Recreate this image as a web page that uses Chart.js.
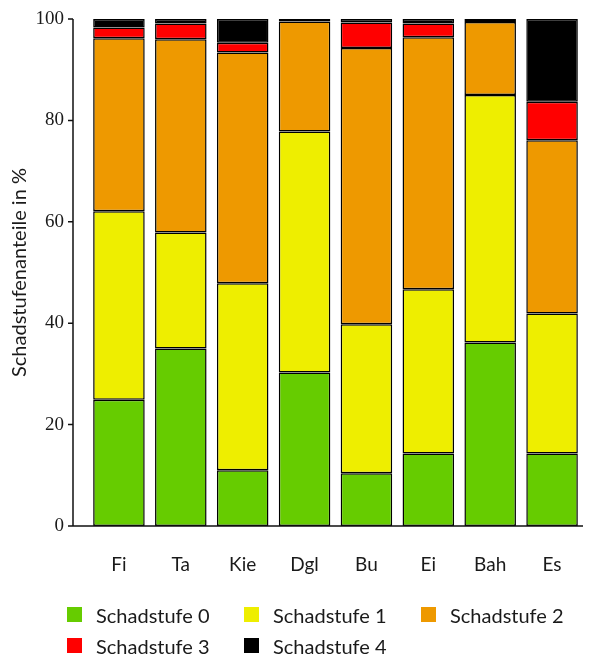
<!DOCTYPE html>
<html>
<head>
<meta charset="utf-8">
<script src="https://cdn.jsdelivr.net/npm/chart.js@4.4.1/dist/chart.umd.min.js"></script>
<style>
  html, body { margin: 0; padding: 0; background: #fff; }
  #wrap { position: relative; width: 590px; height: 662px; }
  #legend {
    position: absolute; left: 67px; top: 603px;
    display: grid; grid-template-columns: 177px 177px 177px; row-gap: 8px;
    font-family: Lato, sans-serif; font-size: 20px; color: #1a1a1a;
  }
  .item { display: flex; align-items: center; height: 23px; }
  .box { width: 15px; height: 15px; margin-right: 14px; }
</style>
</head>
<body>
<div id="wrap">
  <canvas id="chart" width="590" height="662"></canvas>
  <div id="legend"></div>
</div>
<script>
const categories = ["Fi", "Ta", "Kie", "Dgl", "Bu", "Ei", "Bah", "Es"];
const stufe0 = [24.9, 35.0, 11.0, 30.3, 10.4, 14.3, 36.2, 14.3];
const stufe1 = [37.2, 22.9, 36.9, 47.5, 29.4, 32.4, 48.8, 27.6];
const stufe2 = [34.1, 38.1, 45.5, 21.7, 54.5, 49.7, 14.4, 34.2];
const stufe3 = [2.1, 3.1, 1.9, 0, 5.0, 2.7, 0, 7.6];
const stufe4 = [1.7, 0.9, 4.7, 0.5, 0.7, 0.9, 0.6, 16.3];
const seriesNames = ["Schadstufe 0", "Schadstufe 1", "Schadstufe 2", "Schadstufe 3", "Schadstufe 4"];
const seriesColors = ["#66cc00", "#eeee00", "#ee9900", "#ff0000", "#000000"];
const yTicks = [0, 20, 40, 60, 80, 100];

const allSeries = [stufe0, stufe1, stufe2, stufe3, stufe4];
const datasets = allSeries.map((vals, i) => ({
    label: seriesNames[i],
    data: vals,
    backgroundColor: seriesColors[i],
    borderColor: "#000",
    borderWidth: 1.5,
    borderSkipped: false,
    inflateAmount: 0,
    categoryPercentage: 1,
    barPercentage: 0.833
}));

// the y axis line sits a bit left of the first bar, so it is drawn here
const axisLines = {
    id: "axisLines",
    afterDraw(chart) {
        const ctx = chart.ctx;
        const y = chart.scales.y;
        const area = chart.chartArea;
        const ax = area.left - 15;
        ctx.save();
        ctx.strokeStyle = "#111";
        ctx.lineWidth = 1.5;
        ctx.beginPath();
        ctx.moveTo(ax, y.getPixelForValue(100));
        ctx.lineTo(ax, y.getPixelForValue(0));
        ctx.lineTo(area.right, y.getPixelForValue(0));
        yTicks.forEach(t => {
            const py = y.getPixelForValue(t);
            ctx.moveTo(ax - 5, py);
            ctx.lineTo(ax, py);
        });
        ctx.stroke();
        ctx.restore();
    }
};

const ctx = document.getElementById("chart").getContext("2d");
new Chart(ctx, {
    type: "bar",
    data: { labels: categories, datasets: datasets },
    options: {
        responsive: false,
        animation: false,
        layout: { padding: { top: 19, right: 7, left: 0, bottom: 0 } },
        plugins: { legend: { display: false }, tooltip: { enabled: false } },
        scales: {
            x: {
                stacked: true,
                grid: { display: false, drawTicks: false },
                border: { display: false },
                ticks: { color: "#1a1a1a", padding: 27, font: { family: "Lato", size: 19 } },
                afterFit(scale) { scale.height = 136; }
            },
            y: {
                stacked: true,
                min: 0,
                max: 100,
                afterBuildTicks(scale) { scale.ticks = yTicks.map(v => ({ value: v })); },
                grid: { display: false, drawTicks: false },
                border: { display: false },
                ticks: { color: "#1a1a1a", padding: 24, font: { family: "Liberation Sans Narrow", size: 19 } },
                title: {
                    display: true,
                    text: "Schadstufenanteile in %",
                    color: "#1a1a1a",
                    font: { family: "Lato", size: 20 },
                    padding: { top: 8, bottom: 0 }
                },
                afterFit(scale) {
                    scale.width = 88;
                    scale.paddingTop = 10;
                    scale.paddingBottom = 10;
                }
            }
        }
    },
    plugins: [axisLines]
});

const legendEl = document.getElementById("legend");
seriesNames.forEach((name, i) => {
    const div = document.createElement("div");
    div.className = "item";
    div.innerHTML = `<span class="box" style="background:${seriesColors[i]}"></span><span>${name}</span>`;
    legendEl.appendChild(div);
});
</script>
</body>
</html>
